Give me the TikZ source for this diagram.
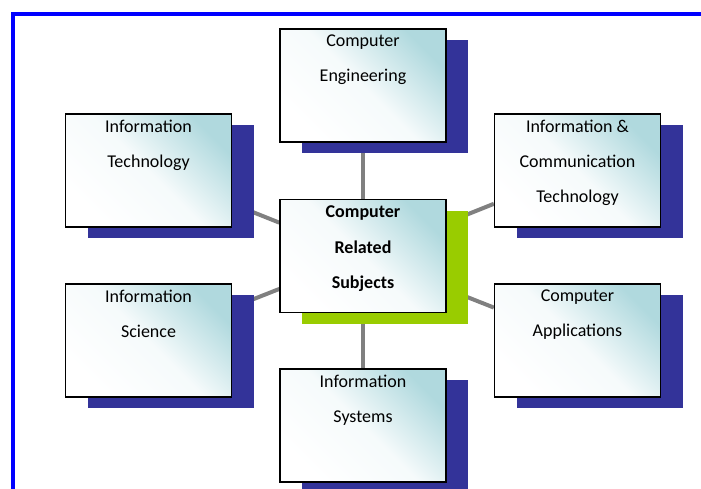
\documentclass[tikz,border=0pt]{standalone}
\usepackage{fontspec}
\setmainfont{Carlito}
\usetikzlibrary{shadows,backgrounds}
\definecolor{subjnavy}{RGB}{51,51,153}
\definecolor{subjgreen}{RGB}{153,204,0}
\definecolor{subjteal}{RGB}{176,217,222}
\definecolor{linkgray}{RGB}{128,128,128}
\begin{document}
\begin{tikzpicture}[x=0.75pt,y=-0.75pt,
	subjbox/.style={rectangle, draw=black, line width=1pt, inner sep=0pt,
		minimum width=124.5pt, minimum height=84.75pt,
		top color=subjteal, bottom color=white, middle color=white!88!subjteal, shading angle=-45},
	subject/.style={subjbox, drop shadow={fill=subjnavy, opacity=1, shadow xshift=16.5pt, shadow yshift=-8.6pt}},
	core/.style={subjbox, drop shadow={fill=subjgreen, opacity=1, shadow xshift=16.5pt, shadow yshift=-8.6pt}},
	subjtext/.style={anchor=north, align=center, inner sep=0pt, yshift=-5pt,
		font=\fontsize{13.5pt}{26.25pt}\selectfont},
	coretext/.style={subjtext, font=\fontsize{13.5pt}{26.6pt}\selectfont\bfseries},
	link/.style={draw=linkgray, line width=3pt}]
	\useasboundingbox (0,0) rectangle (701,489);
	\draw[blue, line width=2.6pt] (13,14) rectangle (760,540);

	\node (crs)  at (363, 256)   [core,    label={[coretext]north:Computer\\Related\\Subjects}] {};
	\node (ce)   at (363, 85.5)  [subject, label={[subjtext]north:Computer\\Engineering}] {};
	\node (it)   at (148.5, 170.5) [subject, label={[subjtext]north:Information\\Technology}] {};
	\node (ict)  at (577.5, 170.5) [subject, label={[subjtext]north:Information \&\\Communication\\Technology}] {};
	\node (is)   at (148.5, 340.5) [subject, label={[subjtext]north:Information\\Science}] {};
	\node (ca)   at (577.5, 340.5) [subject, label={[subjtext]north:Computer\\Applications}] {};
	\node (isys) at (363, 425.5) [subject, label={[subjtext]north:Information\\Systems}] {};

	\begin{scope}[on background layer]
		\draw[link] (crs) -- (ce);
		\draw[link] (crs) -- (it);
		\draw[link] (crs) -- (ict);
		\draw[link] (crs) -- (is);
		\draw[link] (crs) -- (ca);
		\draw[link] (crs) -- (isys);
	\end{scope}
\end{tikzpicture}
\end{document}
